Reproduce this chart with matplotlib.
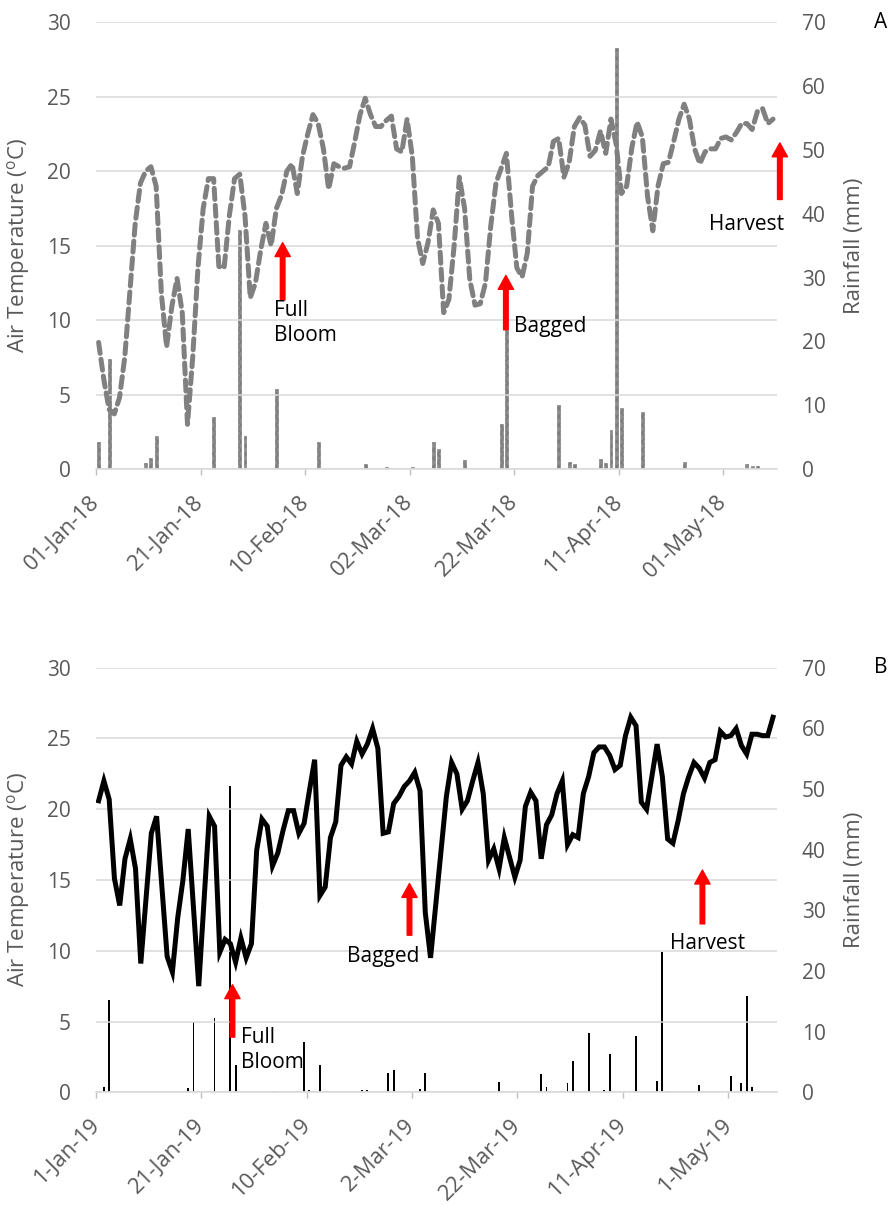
import numpy as np
import matplotlib.pyplot as plt

plt.rcParams['font.family'] = ['Open Sans', 'DejaVu Sans']

# ---------------- data ----------------
# Panel A (2018): daily mean air temperature (deg C), from 01-Jan-18
temp_A = [8.5, 6.0, 4.0, 3.7, 4.8, 7.5, 12.0, 16.5, 19.2, 20.0,
          20.3, 19.0, 11.8, 8.2, 10.9, 12.8, 10.5, 3.0, 7.5, 13.5,
          17.5, 19.5, 19.5, 13.6, 13.5, 17.0, 19.5, 19.8, 17.0, 11.5,
          12.5, 14.7, 16.5, 15.0, 17.5, 18.4, 20.0, 20.5, 18.5, 21.0,
          22.5, 23.8, 23.2, 21.5, 18.8, 20.5, 20.3, 20.2, 20.3, 22.0,
          23.8, 24.9, 23.8, 23.0, 23.0, 23.4, 23.7, 21.5, 21.3, 23.5,
          21.0, 15.5, 13.8, 15.2, 17.4, 16.5, 10.5, 11.4, 15.0, 19.6,
          17.5, 12.7, 11.0, 11.1, 12.5, 16.3, 19.2, 20.2, 21.2, 17.0,
          13.5, 12.9, 14.5, 19.0, 19.7, 20.0, 20.3, 22.0, 22.2, 19.6,
          20.6, 23.0, 23.6, 23.1, 21.0, 21.4, 22.7, 21.2, 23.5, 21.8,
          18.5, 19.0, 21.6, 23.3, 22.3, 18.3, 16.0, 19.0, 20.5, 20.6,
          22.0, 23.5, 24.5, 23.5, 21.5, 20.5, 21.3, 21.5, 21.5, 22.2,
          22.3, 22.1, 22.6, 23.2, 23.2, 22.8, 24.0, 24.2, 23.2, 23.5]
# Panel A rainfall (mm): day index (0 = 01-Jan-18) and amount
rain_day_A = [0, 2, 9, 10, 11, 22, 27, 28, 34, 42, 51, 55, 60, 64, 65, 70,
              77, 78, 88, 90, 91, 96, 97, 98, 99, 100, 104, 112, 124, 125, 126]
rain_mm_A = [4.3, 17.3, 0.9, 1.7, 5.1, 8.2, 37.5, 5.1, 12.6, 4.3, 0.8, 0.3,
             0.3, 4.3, 3.2, 1.4, 7.0, 21.8, 10.0, 1.1, 0.8, 1.5, 0.9, 6.1,
             65.9, 9.5, 9.0, 1.1, 0.8, 0.5, 0.5]

# Panel B (2019): daily mean air temperature (deg C), from 1-Jan-19
temp_B = [20.6, 22.0, 20.7, 15.1, 13.2, 16.5, 17.9, 15.8, 9.1, 13.7,
          18.3, 19.5, 14.5, 9.6, 8.5, 12.3, 15.0, 18.6, 13.0, 7.5,
          13.5, 19.5, 18.8, 9.9, 10.8, 10.5, 9.2, 10.9, 9.5, 10.5,
          17.1, 19.3, 18.8, 16.0, 16.9, 18.5, 19.9, 19.9, 18.3, 19.0,
          21.3, 23.5, 13.9, 14.5, 18.0, 19.1, 23.1, 23.7, 23.2, 24.8,
          23.9, 24.6, 25.7, 24.3, 18.3, 18.4, 20.4, 20.9, 21.6, 22.0,
          22.6, 21.3, 12.7, 9.5, 13.3, 17.1, 20.9, 23.3, 22.5, 20.0,
          20.6, 22.0, 23.3, 21.1, 16.4, 17.2, 15.8, 18.0, 16.6, 15.2,
          16.4, 20.2, 21.2, 20.6, 16.5, 18.9, 19.6, 21.1, 22.0, 17.5,
          18.2, 18.0, 21.1, 22.3, 24.0, 24.4, 24.4, 23.8, 22.8, 23.1,
          25.2, 26.5, 25.9, 20.5, 20.0, 22.3, 24.6, 22.3, 17.9, 17.6,
          19.2, 21.1, 22.3, 23.3, 22.9, 22.2, 23.3, 23.5, 25.5, 25.1,
          25.2, 25.7, 24.5, 23.9, 25.3, 25.3, 25.2, 25.2, 26.5]
rain_day_B = [1, 2, 17, 18, 22, 25, 26, 33, 39, 40, 42, 50, 51, 55, 56, 61,
              62, 76, 84, 85, 89, 90, 93, 96, 97, 102, 106, 107, 108, 114,
              120, 122, 123, 124]
rain_mm_B = [0.9, 15.2, 0.7, 11.6, 12.2, 50.5, 4.5, 0.2, 8.3, 0.3, 4.5, 0.4,
             0.3, 3.2, 3.7, 0.5, 3.2, 1.75, 3.0, 0.9, 1.5, 5.2, 9.8, 0.3, 6.3,
             9.3, 1.9, 23.1, 0.2, 1.2, 2.7, 1.5, 15.8, 0.9]

tick_days = [0, 20, 40, 60, 80, 100, 120]
tick_labels_A = ['01-Jan-18', '21-Jan-18', '10-Feb-18', '02-Mar-18',
                 '22-Mar-18', '11-Apr-18', '01-May-18']
tick_labels_B = ['1-Jan-19', '21-Jan-19', '10-Feb-19', '2-Mar-19',
                 '22-Mar-19', '11-Apr-19', '1-May-19']

# events: (label, day position, arrow tail temp, arrow tip temp, text day, text temp, ha)
events_A = [('Full\nBloom', 35.7, 11.35, 15.2, 34.1, 9.8, 'left'),
            ('Bagged', 78.4, 9.35, 13.0, 80.0, 9.6, 'left'),
            ('Harvest', 130.8, 18.1, 21.9, 117.3, 16.4, 'left')]
events_B = [('Full\nBloom', 25.9, 3.9, 7.6, 27.6, 3.0, 'left'),
            ('Bagged', 59.5, 11.1, 14.75, 54.5, 9.6, 'center'),
            ('Harvest', 115.1, 11.9, 15.7, 116.1, 10.5, 'center')]

W, H = 891, 1205
GRAY_TXT = '#595959'
GRID = '#d9d9d9'
FS = 15


def make_panel(rect, xmax, temps, rday, rmm, ticklabels, line_kw, bar_kw,
               events, letter):
    ax = fig.add_axes(rect)
    ax2 = ax.twinx()
    ax.set_zorder(ax2.get_zorder() + 1)
    ax.patch.set_visible(False)

    x = np.arange(len(temps)) + 0.5
    ax.plot(x, temps, **line_kw)
    ax2.bar(np.array(rday) + 0.5, rmm, **bar_kw)

    ax.set_xlim(0, xmax)
    ax.set_ylim(0, 30)
    ax2.set_ylim(0, 70)
    ax.set_yticks(np.arange(0, 31, 5))
    ax2.set_yticks(np.arange(0, 71, 10))
    ax.grid(axis='y', color=GRID, lw=1.1)
    ax.set_axisbelow(True)
    for a in (ax, ax2):
        for s in a.spines.values():
            s.set_visible(False)
    ax.spines['bottom'].set_visible(True)
    ax.spines['bottom'].set_color(GRID)
    ax.spines['bottom'].set_linewidth(1.1)

    ax.tick_params(axis='y', length=0, pad=18, labelsize=FS,
                   labelcolor=GRAY_TXT)
    ax2.tick_params(axis='y', length=0, pad=18, labelsize=FS,
                    labelcolor=GRAY_TXT)
    ax.set_xticks(tick_days)
    ax.set_xticklabels(ticklabels, rotation=45, ha='right', va='center',
                       rotation_mode='anchor')
    ax.tick_params(axis='x', length=4.5, width=1, color='#bfbfbf',
                   direction='out', pad=17, labelsize=15.8,
                   labelcolor=GRAY_TXT)

    ax.set_ylabel('Air Temperature ($^{\\mathregular{o}}$C)', fontsize=16,
                  color=GRAY_TXT, labelpad=11)
    ax2.set_ylabel('Rainfall (mm)', fontsize=16, color=GRAY_TXT,
                   labelpad=13)

    for (lab, xd, t0, t1, tx, ty, ha) in events:
        ax.annotate('', xy=(xd, t1), xytext=(xd, t0),
                    arrowprops=dict(color='red', width=3.3, headwidth=11,
                                    headlength=10, shrink=0),
                    annotation_clip=False, zorder=5)
        ax.text(tx, ty, lab, ha=ha, va='center', fontsize=FS, color='black',
                linespacing=1.25, clip_on=False, zorder=6)

    top_px = H - (rect[1] + rect[3]) * H
    fig.text(881 / W, 1 - top_px / H, letter, ha='center', va='center',
             fontsize=FS, color='black')
    return ax


fig = plt.figure(figsize=(W / 100, H / 100), dpi=100)

rectA = [96 / W, 1 - 469 / H, 680.7 / W, 446.7 / H]
rectB = [96 / W, 1 - 1092.3 / H, 680.7 / W, 424.6 / H]

make_panel(rectA, 130.2, temp_A, rain_day_A, rain_mm_A, tick_labels_A,
           dict(color='#808080', lw=3.6, linestyle=(0, (2.2, 1.2)),
                dash_capstyle='round', solid_joinstyle='round'),
           dict(width=0.55, color='#8c8c8c', edgecolor='#7a7a7a',
                linewidth=0.4, hatch='xxxx'),
           events_A, 'A')

make_panel(rectB, 129.2, temp_B, rain_day_B, rain_mm_B, tick_labels_B,
           dict(color='black', lw=3.6, solid_joinstyle='miter'),
           dict(width=0.35, color='black', linewidth=0),
           events_B, 'B')

fig.savefig('out.png', dpi=100)
